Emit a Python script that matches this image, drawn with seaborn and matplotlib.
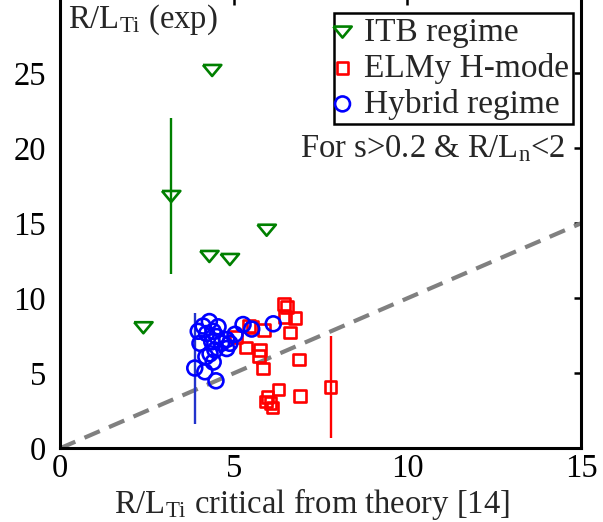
import numpy as np
import matplotlib
matplotlib.use("Agg")
import matplotlib.pyplot as plt
import seaborn as sns

# ITB regime
itb_x = [4.38, 3.20, 5.95, 4.30, 4.89, 2.40]
itb_y = [25.2, 16.8, 14.55, 12.8, 12.6, 8.05]
itb_err_idx = 1
itb_err = 5.2

# ELMy H-mode
elm_x = [6.45, 6.54, 6.47, 6.76, 6.62, 5.06, 5.44, 5.54, 5.88, 5.35,
         5.76, 5.73, 5.85, 6.88, 6.29, 6.91, 5.97, 5.93, 6.06, 6.12, 7.79]
elm_y = [9.6, 9.4, 8.77, 8.67, 7.73, 7.4, 8.15, 8.07, 7.89, 6.71,
         6.55, 6.15, 5.33, 5.93, 3.93, 3.49, 3.4, 3.11, 3.04, 2.73, 4.08]
elm_err_idx = 20
elm_err = 3.4

# Hybrid regime
hyb_x = [4.30, 4.12, 3.98, 4.22, 4.41, 4.51, 4.37, 4.03, 4.65, 4.80,
         4.89, 4.80, 4.46, 4.32, 4.41, 4.17, 3.88, 4.49, 5.27, 5.52,
         6.14, 5.04, 4.55, 4.20]
hyb_y = [8.45, 8.15, 7.8, 7.65, 7.8, 7.45, 7.1, 7.0, 7.0, 7.25,
         7.0, 6.65, 6.55, 6.3, 5.75, 5.1, 5.35, 4.5, 8.25, 7.95,
         8.3, 7.6, 8.1, 6.1]
hyb_err_idx = 16
hyb_err = 3.7

x_ticks = [0, 5, 10, 15]
y_ticks = [0, 5, 10, 15, 20, 25]

sns.set_style("white")
plt.rcParams["font.family"] = ["Liberation Serif", "DejaVu Serif"]
plt.rcParams["mathtext.fontset"] = "custom"
plt.rcParams["mathtext.rm"] = "Liberation Serif"
plt.rcParams["mathtext.it"] = "Liberation Serif:italic"

GREEN = "#008000"
RED = "#ff0000"
BLUE = "#0000ff"
FS = 23.5

fig = plt.figure(figsize=(6.03, 5.22), dpi=100)
ax = fig.add_axes([60 / 603, 1 - 448.3 / 522, 521 / 603, 450 / 522])

# flattened downward triangle
tri = np.array([[-1.0, 0.58], [1.0, 0.58], [0.0, -0.62], [-1.0, 0.58]])

# reference line y = x
ax.plot([0, 15], [0, 15], color="#808080", lw=3.0, ls=(0, (4.0, 2.4)),
        zorder=1)

# error bars
ax.vlines(itb_x[itb_err_idx], itb_y[itb_err_idx] - itb_err,
          itb_y[itb_err_idx] + itb_err, color=GREEN, lw=1.7, zorder=2)
ax.vlines(elm_x[elm_err_idx], elm_y[elm_err_idx] - elm_err,
          elm_y[elm_err_idx] + elm_err, color=RED, lw=1.7, zorder=2)
ax.vlines(hyb_x[hyb_err_idx], hyb_y[hyb_err_idx] - hyb_err,
          hyb_y[hyb_err_idx] + hyb_err, color="#2233cc", lw=1.7, zorder=2)

sns.scatterplot(x=itb_x, y=itb_y, ax=ax, marker=tri, s=175, color=GREEN,
                facecolor="none", edgecolor=GREEN, linewidth=1.9,
                label="ITB regime", zorder=3)
sns.scatterplot(x=elm_x, y=elm_y, ax=ax, marker="s", s=70, color=RED,
                facecolor="none", edgecolor=RED, linewidth=1.9,
                label="ELMy H-mode", zorder=3)
sns.scatterplot(x=hyb_x, y=hyb_y, ax=ax, marker="o", s=115, color=BLUE,
                facecolor="none", edgecolor=BLUE, linewidth=1.9,
                label="Hybrid regime", zorder=3)

ax.set_xlim(0, 15)
ax.set_ylim(0, 30)
ax.set_xticks(x_ticks)
ax.set_yticks(y_ticks)
ax.tick_params(direction="in", length=5, width=1.8, labelsize=FS,
               top=True, right=True, labeltop=False, labelright=False,
               colors="black")
ax.tick_params(axis="y", pad=10)
ax.tick_params(axis="x", pad=3.5)
for sp in ax.spines.values():
    sp.set_visible(True)
    sp.set_color("black")
    sp.set_linewidth(2.2)

ax.set_xlabel(r"R/L$_{\mathrm{Ti}}$ critical from theory [14]", fontsize=FS)
ax.xaxis.set_label_coords(0.483, -0.083)
ax.xaxis.label.set_va("top")
ax.text(0.015, 0.99, r"R/L$_{\mathrm{Ti}}$ (exp)", transform=ax.transAxes,
        fontsize=FS, ha="left", va="top")
ax.text(0.97, 0.665, r"For s>0.2 & R/L$_{\mathrm{n}}$<2", transform=ax.transAxes,
        fontsize=FS, ha="right", va="center")

leg = ax.legend(loc="upper right", bbox_to_anchor=(0.985, 0.967),
                borderaxespad=0, fontsize=24, frameon=True, fancybox=False,
                handletextpad=0.5, handlelength=0.3, borderpad=0.12,
                labelspacing=0.15)
leg.get_frame().set_edgecolor("black")
leg.get_frame().set_linewidth(1.8)
leg.get_frame().set_alpha(1)

fig.savefig("out.png", dpi=100)
